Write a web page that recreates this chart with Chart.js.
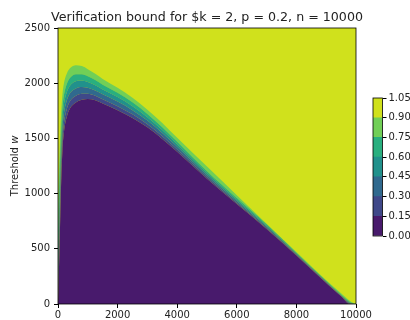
<!DOCTYPE html>
<html lang="en">
<head>
<meta charset="UTF-8">
<title>Verification bound</title>
<script src="https://cdn.jsdelivr.net/npm/chart.js"></script>
<style>
  html, body { margin: 0; padding: 0; background: #fff; overflow: hidden; }
  #wrap { position: relative; width: 410px; height: 320px; }
  #main { position: absolute; left: 0; top: 0; }
  #cbar { position: absolute; left: 370px; top: 90px; }
</style>
</head>
<body>
<div id="wrap">
  <canvas id="main" width="410" height="320"></canvas>
  <canvas id="cbar" width="42" height="155"></canvas>
</div>
<script>
// x samples (n) and the w-height of each contour level
const xs  = [0, 25, 50, 100, 150, 200, 300, 400, 600, 800, 1000, 1250, 1500, 2000, 2500, 3000, 3500, 4000, 5000, 6000, 7000, 8000, 9000, 9500, 9800, 10000];
const c15 = [0, 250, 500, 1050, 1400, 1560, 1700, 1770, 1825, 1850, 1857, 1845, 1815, 1755, 1685, 1600, 1495, 1380, 1135, 905, 680, 440, 190, 70, 0, 0];
const c30 = [162, 412, 653, 1167, 1490, 1639, 1770, 1836, 1886, 1905, 1905, 1887, 1855, 1792, 1718, 1629, 1519, 1400, 1150, 917, 689, 446, 195, 74, 5, 0];
const c45 = [342, 592, 823, 1297, 1590, 1727, 1848, 1909, 1953, 1966, 1959, 1935, 1900, 1834, 1756, 1662, 1548, 1424, 1169, 932, 701, 453, 201, 78, 10, 0];
const c60 = [513, 763, 985, 1421, 1685, 1811, 1922, 1978, 2018, 2024, 2011, 1982, 1943, 1874, 1792, 1692, 1575, 1447, 1186, 946, 712, 459, 205, 82, 14, 0];
const c75 = [684, 934, 1146, 1544, 1780, 1894, 1996, 2047, 2082, 2082, 2064, 2030, 1987, 1914, 1828, 1722, 1602, 1470, 1203, 960, 723, 465, 210, 86, 19, 0];
const c90 = [900, 1150, 1350, 1700, 1900, 2000, 2090, 2135, 2163, 2155, 2127, 2085, 2038, 1958, 1868, 1760, 1640, 1505, 1245, 985, 727, 470, 215, 97, 27, 0];

const levels = [0, 0.15, 0.30, 0.45, 0.60, 0.75, 0.90, 1.05];
const bandColors = ['#481a6c', '#3f4889', '#30698e', '#21918c', '#29af7f', '#71cf57', '#d0e11c'];
const xTicks = [0, 2000, 4000, 6000, 8000, 10000];
const yTicks = [0, 500, 1000, 1500, 2000, 2500];
const titleText = 'Verification bound for $k = 2, p = 0.2, n = 10000';

const curves = [c15, c30, c45, c60, c75, c90];
const tickFont = { family: 'DejaVu Sans', size: 10 };
const textColor = '#222';

// yellow top band = plot background, spines, title and y label drawn by hand
const plotFrame = {
  id: 'plotFrame',
  beforeDatasetsDraw(chart) {
    const a = chart.chartArea, ctx = chart.ctx;
    ctx.save();
    ctx.fillStyle = bandColors[6];
    ctx.fillRect(a.left, a.top, a.right - a.left, a.bottom - a.top);
    ctx.restore();
  },
  afterDraw(chart) {
    const a = chart.chartArea, ctx = chart.ctx;
    ctx.save();
    ctx.strokeStyle = '#000';
    ctx.lineWidth = 0.8;
    ctx.strokeRect(a.left, a.top, a.right - a.left, a.bottom - a.top);

    ctx.fillStyle = textColor;
    ctx.font = '12.65px "DejaVu Sans"';
    ctx.textAlign = 'center';
    ctx.textBaseline = 'alphabetic';
    ctx.fillText(titleText, (a.left + a.right) / 2, 21);

    // y label with italic w
    ctx.translate(15, (a.top + a.bottom) / 2);
    ctx.rotate(-Math.PI / 2);
    ctx.textBaseline = 'middle';
    ctx.textAlign = 'left';
    const t1 = 'Threshold ';
    ctx.font = 'italic 10px "DejaVu Sans"';
    const w2 = ctx.measureText('w').width;
    ctx.font = '10px "DejaVu Sans"';
    const w1 = ctx.measureText(t1).width;
    const x0 = -(w1 + w2) / 2;
    ctx.fillText(t1, x0, 0);
    ctx.font = 'italic 10px "DejaVu Sans"';
    ctx.fillText('w', x0 + w1, 0);
    ctx.restore();
  }
};

new Chart(document.getElementById('main'), {
  type: 'line',
  data: {
    datasets: curves.map((ys, i) => ({
      data: xs.map((x, j) => ({ x: x, y: ys[j] })),
      fill: i === 0 ? 'origin' : '-1',
      backgroundColor: bandColors[i],
      borderWidth: 0,
      pointRadius: 0,
      cubicInterpolationMode: 'monotone'
    }))
  },
  options: {
    responsive: false,
    animation: false,
    layout: { padding: { left: 0, right: 54, top: 28, bottom: 0 } },
    plugins: {
      legend: { display: false },
      tooltip: { enabled: false },
      title: { display: false }
    },
    scales: {
      x: {
        type: 'linear', min: 0, max: 10000,
        afterBuildTicks: s => { s.ticks = xTicks.map(v => ({ value: v })); },
        afterFit: s => { s.height = 16; },
        grid: { drawOnChartArea: false, tickLength: 4, tickColor: '#000' },
        border: { display: false },
        ticks: { font: tickFont, color: textColor, padding: 1, maxRotation: 0, callback: v => String(v) }
      },
      y: {
        min: 0, max: 2500,
        afterBuildTicks: s => { s.ticks = yTicks.map(v => ({ value: v })); },
        afterFit: s => { s.width = 58; },
        grid: { drawOnChartArea: false, tickLength: 4, tickColor: '#000' },
        border: { display: false },
        ticks: { font: tickFont, color: textColor, padding: 4, callback: v => String(v) }
      }
    }
  },
  plugins: [plotFrame]
});

// colorbar
const cbarFrame = {
  id: 'cbarFrame',
  afterDraw(chart) {
    const a = chart.chartArea, ctx = chart.ctx;
    ctx.save();
    ctx.strokeStyle = '#000';
    ctx.lineWidth = 0.8;
    ctx.strokeRect(a.left, a.top, a.right - a.left, a.bottom - a.top);
    ctx.restore();
  }
};

new Chart(document.getElementById('cbar'), {
  type: 'bar',
  data: {
    labels: [''],
    datasets: bandColors.map((c, i) => ({
      data: [[levels[i], levels[i + 1]]],
      backgroundColor: c,
      borderWidth: 0,
      barPercentage: 1,
      categoryPercentage: 1
    }))
  },
  options: {
    responsive: false,
    animation: false,
    layout: { padding: { left: 3, top: 7, bottom: 9, right: 0 } },
    plugins: { legend: { display: false }, tooltip: { enabled: false } },
    scales: {
      x: { stacked: true, display: false },
      y: {
        position: 'right',
        min: 0, max: 1.05,
        afterBuildTicks: s => { s.ticks = levels.map(v => ({ value: v })); },
        afterFit: s => { s.width = 29.5; },
        grid: { drawOnChartArea: false, tickLength: 4, tickColor: '#000' },
        border: { display: false },
        ticks: { font: tickFont, color: textColor, padding: 2, callback: v => v.toFixed(2) }
      }
    }
  },
  plugins: [cbarFrame]
});
</script>
</body>
</html>
